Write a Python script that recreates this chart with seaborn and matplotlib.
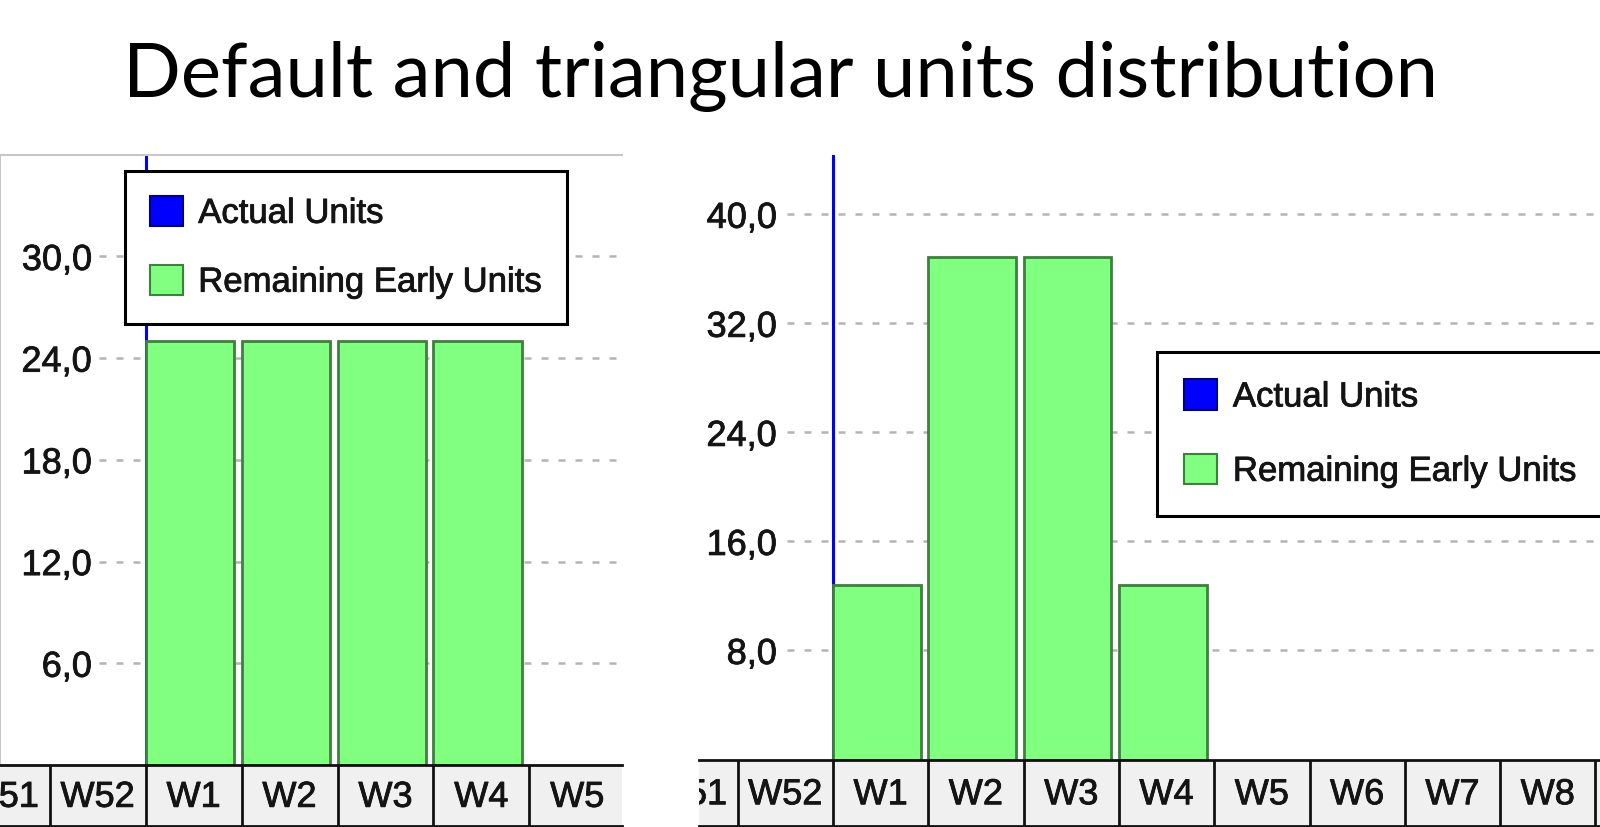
import numpy as np
import pandas as pd
import seaborn as sns
import matplotlib.pyplot as plt
import matplotlib.patheffects as pe
from matplotlib.patches import Patch
from matplotlib.transforms import blended_transform_factory

# =========================
# DATA
# =========================
title = 'Default and triangular units distribution'
legend_labels = ['Actual Units', 'Remaining Early Units']
current_week = 'W1'

left_weeks = ['W51', 'W52', 'W1', 'W2', 'W3', 'W4', 'W5']
left_units = [0, 0, 25.0, 25.0, 25.0, 25.0, 0]
left_ticks = [6, 12, 18, 24, 30]
left_ymax = 36

right_weeks = ['W51', 'W52', 'W1', 'W2', 'W3', 'W4', 'W5', 'W6', 'W7', 'W8', 'W9']
right_units = [0, 0, 12.8, 36.9, 36.9, 12.8, 0, 0, 0, 0, 0]
right_ticks = [8, 16, 24, 32, 40]
right_ymax = 44.35

# =========================
# STYLE
# =========================
sns.set_style('white')
plt.rcParams['font.family'] = ['Liberation Sans', 'DejaVu Sans']

GREEN = '#80ff80'
EDGE = '#3f7f3f'
BLUE = '#0000ff'
GRID = '#b4b4b4'
TEXT = '#141414'
BAR_W = 0.92
GRID_X0 = 1.055
HEAVY = [pe.withStroke(linewidth=0.6, foreground=TEXT)]

W, H = 1600, 828
fig = plt.figure(figsize=(W / 100, H / 100), dpi=100)


def rect(x0, y0, x1, y1):
    return [x0 / W, 1 - y1 / H, (x1 - x0) / W, (y1 - y0) / H]


def fmt(v):
    return f'{v:.1f}'.replace('.', ',')


def draw_chart(main_box, cell_box, weeks, units, ticks, ymax, xlim,
               label_pad, tick_len, frame, legend_xy, leg_space, leg_pad):
    ax = fig.add_axes(rect(*main_box))
    cx = fig.add_axes(rect(*cell_box), sharex=ax)

    df = pd.DataFrame({'week': weeks, 'units': units})
    sns.barplot(data=df[df['units'] > 0], x='week', y='units', order=weeks,
                width=BAR_W, color=GREEN, saturation=1, edgecolor=EDGE,
                linewidth=2, errorbar=None, ax=ax, zorder=3)

    # current week marker
    ax.axvline(weeks.index(current_week) - BAR_W / 2, color=BLUE, lw=2.2, zorder=2)

    # dashed grid
    ax.hlines(ticks, GRID_X0, xlim[1], colors=GRID, linestyles=[(0, (2.8, 4))],
              lw=1.8, zorder=1)

    ax.set_xlim(*xlim)
    ax.set_ylim(0, ymax)
    ax.set_yticks(ticks)
    ax.set_yticklabels([fmt(t) for t in ticks])
    ax.set_xlabel('')
    ax.set_ylabel('')
    ax.tick_params(axis='x', bottom=False, labelbottom=False)
    ax.tick_params(axis='y', direction='in', length=tick_len, width=1.5,
                   color='black', labelcolor=TEXT, labelsize=26, pad=label_pad)
    for lab in ax.get_yticklabels():
        lab.set_path_effects(HEAVY)
    for s in ['right', 'bottom']:
        ax.spines[s].set_visible(False)
    for s in ['top', 'left']:
        ax.spines[s].set_visible(frame)
        ax.spines[s].set_color('#c8c8c8')
        ax.spines[s].set_linewidth(1.5)

    # week cells under the bars
    cx.set_facecolor('#f0f0f0')
    cx.set_ylim(0, 1)
    cx.tick_params(bottom=False, left=False, labelbottom=False, labelleft=False)
    for s in ['left', 'right']:
        cx.spines[s].set_visible(False)
    for s in ['top', 'bottom']:
        cx.spines[s].set_color('#111111')
        cx.spines[s].set_linewidth(2)
    cx.vlines([i - BAR_W / 2 for i in range(1, len(weeks))], 0, 1,
              colors='#111111', lw=2)
    tr = blended_transform_factory(cx.transData, cx.transAxes)
    for i, w in enumerate(weeks):
        cx.text(i - BAR_W / 2 + 0.5, 0.47, w, transform=tr, ha='center',
                va='center', fontsize=26, color=TEXT, clip_on=True,
                path_effects=HEAVY)

    handles = [Patch(facecolor=BLUE, edgecolor='#000080', lw=1.5),
               Patch(facecolor=GREEN, edgecolor=EDGE, lw=1.5)]
    leg = fig.legend(handles, legend_labels, loc='upper left',
                     bbox_to_anchor=(legend_xy[0] / W, 1 - legend_xy[1] / H),
                     bbox_transform=fig.transFigure, borderaxespad=0,
                     fontsize=25, frameon=True, fancybox=False,
                     edgecolor='black', framealpha=1, handlelength=0.95,
                     handleheight=0.97, handletextpad=0.45,
                     labelspacing=leg_space, borderpad=leg_pad)
    leg.get_frame().set_linewidth(2.2)
    for txt in leg.get_texts():
        txt.set_color(TEXT)
        txt.set_path_effects(HEAVY)
    return ax


# =========================
# LEFT: DEFAULT
# =========================
draw_chart((0, 155.7, 621.7, 766), (0, 766, 621.7, 827),
           left_weeks, left_units, left_ticks, left_ymax, (0.021, 6.503),
           label_pad=-66.2, tick_len=3, frame=True, legend_xy=(124.6, 171.7),
           leg_space=1.0, leg_pad=0.72)

# =========================
# RIGHT: TRIANGULAR
# =========================
draw_chart((699.3, 156, 1600, 760.5), (699.3, 760.5, 1600, 827),
           right_weeks, right_units, right_ticks, right_ymax, (0.137, 9.588),
           label_pad=-55.9, tick_len=0, frame=False, legend_xy=(1156.5, 352.5),
           leg_space=1.16, leg_pad=0.8)

# =========================
# TITLE
# =========================
t = fig.text(780.6 / W, 1 - 97 / H, title, ha='center', va='baseline',
             fontsize=52, family=['Lato', 'DejaVu Sans'], color='black')
fig.canvas.draw()
tw = t.get_window_extent().width
t.set_fontsize(52 * 1316 / tw)

fig.savefig('out.png', dpi=100)
